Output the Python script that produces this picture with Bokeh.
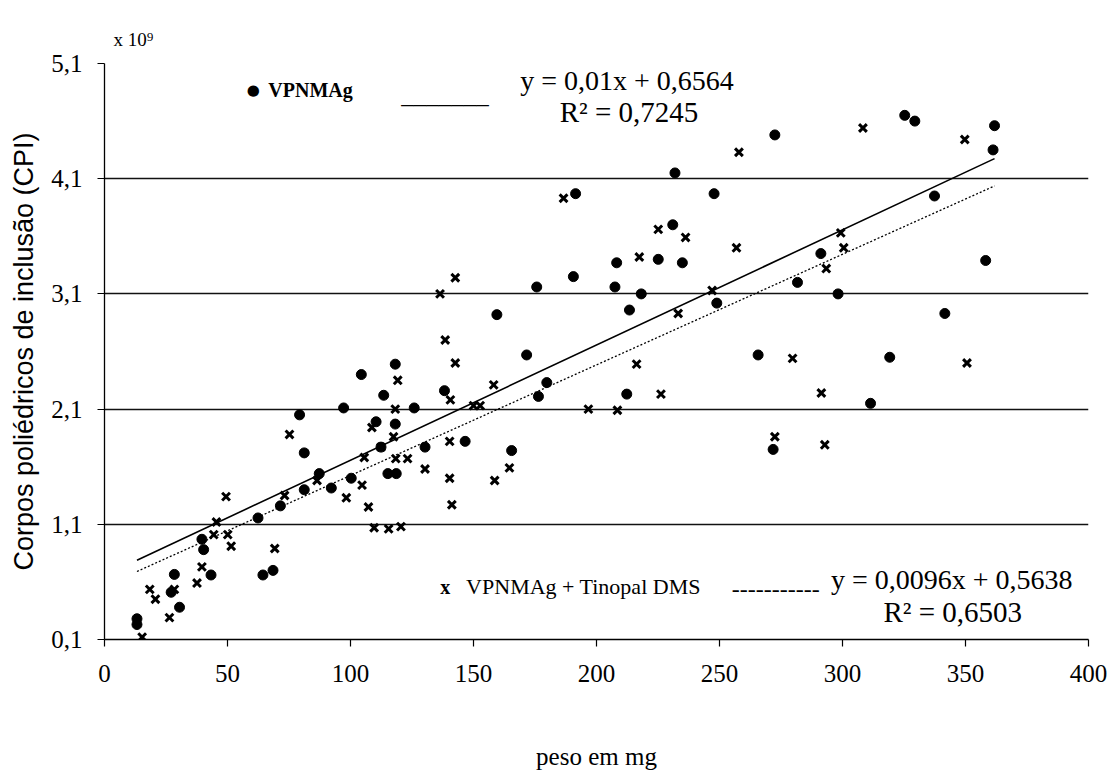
import numpy as np
from bokeh.plotting import figure
from bokeh.models import Range1d, FixedTicker, CustomJSTickFormatter, Label, Title
from bokeh.embed import file_html
from bokeh.resources import INLINE

# VPNMAg (circles)
vp_x = [13.2, 13.2, 27.1, 28.4, 30.5, 39.6, 40.3, 43.3, 62.4, 64.4, 68.5, 71.5,
        79.3, 81.2, 81.2, 87.3, 92.2, 97.2, 100.3, 104.4, 110.4, 112.4, 113.5,
        115.2, 118.6, 118.2, 118.2, 125.9, 130.3, 138.2, 146.6, 159.5, 165.5,
        171.6, 175.7, 176.4, 179.8, 190.6, 191.5, 207.5, 208.2, 212.3, 213.4,
        218.2, 225.1, 231.0, 231.9, 234.9, 247.8, 248.9, 265.7, 271.8, 272.5,
        325.3, 329.4, 361.8, 361.2, 337.4, 291.2, 281.7, 298.2, 358.2, 341.6,
        319.2, 311.4]
vp_y = [0.28, 0.23, 0.51, 0.665, 0.38, 0.97, 0.88, 0.66, 1.155, 0.66, 0.70, 1.26,
        2.05, 1.72, 1.40, 1.54, 1.415, 2.11, 1.50, 2.40, 1.99, 1.77, 2.22,
        1.54, 1.54, 2.49, 1.97, 2.11, 1.77, 2.26, 1.82, 2.92, 1.74,
        2.57, 3.16, 2.21, 2.33, 3.25, 3.97, 3.16, 3.37, 2.23, 2.96,
        3.10, 3.40, 3.70, 4.15, 3.37, 3.97, 3.02, 2.57, 1.75, 4.48,
        4.65, 4.60, 4.56, 4.35, 3.95, 3.45, 3.20, 3.10, 3.39, 2.93,
        2.55, 2.15]

# VPNMAg + Tinopal DMS (crosses)
tin_x = [15.3, 18.4, 20.7, 26.4, 28.4, 37.6, 39.6, 44.4, 45.5, 50.1, 51.5, 49.4,
         69.2, 73.2, 75.2, 86.4, 98.3, 105.6, 104.7, 107.3, 108.7, 109.6, 115.5,
         120.5, 112.4, 117.5, 118.4, 123.2, 118.2, 119.2, 130.3, 138.5, 140.6,
         140.3, 140.3, 141.2, 142.6, 150.0, 152.7, 158.2, 158.6, 164.6, 186.6,
         196.7, 208.5, 216.3, 217.4, 225.1, 226.2, 233.2, 236.2, 247.0, 256.9,
         257.9, 272.5, 308.3, 349.7, 299.3, 300.5, 293.4, 279.7, 350.6, 291.4,
         292.8, 136.4, 142.6]
tin_y = [0.12, 0.535, 0.45, 0.29, 0.535, 0.59, 0.73, 1.01, 1.12, 1.01, 0.91, 1.34,
         0.89, 1.35, 1.88, 1.48, 1.33, 1.68, 1.44, 1.25, 1.94, 1.07, 1.06,
         1.08, 1.77, 1.86, 1.67, 1.67, 2.10, 2.35, 1.58, 2.70, 2.18,
         1.82, 1.50, 1.27, 2.50, 2.13, 2.13, 2.31, 1.48, 1.59, 3.93,
         2.10, 2.09, 2.49, 3.42, 3.66, 2.23, 2.93, 3.59, 3.13, 3.50,
         4.33, 1.86, 4.54, 4.44, 3.63, 3.50, 3.32, 2.54, 2.50, 2.24,
         1.79, 3.10, 3.24]

x_ticks = [0, 50, 100, 150, 200, 250, 300, 350, 400]
y_ticks = [0.1, 1.1, 2.1, 3.1, 4.1, 5.1]

slope1, icpt1 = 0.01, 0.6564
slope2, icpt2 = 0.0096, 0.5638
eq1_text, r1_text = "y = 0,01x + 0,6564", "R\u00b2 = 0,7245"
eq2_text, r2_text = "y = 0,0096x + 0,5638", "R\u00b2 = 0,6503"
series1_name = "VPNMAg"
series2_name = "VPNMAg + Tinopal DMS"
x_label = "peso em mg"
y_label = "Corpos poliédricos de inclusão (CPI)"
scale_text = "x 10\u2079"

SERIF = "Liberation Serif"
SANS = "Liberation Sans"

p = figure(width=1108, height=772, output_backend="svg", toolbar_location=None,
           x_range=Range1d(0, 400), y_range=Range1d(0.1, 5.1),
           min_border_left=104, min_border_right=20, min_border_top=63,
           min_border_bottom=132)
p.outline_line_color = None
p.background_fill_color = "white"
p.border_fill_color = "white"

p.xgrid.grid_line_color = None
p.ygrid.grid_line_color = "#111111"
p.ygrid.grid_line_width = 1.3
p.ygrid.ticker = FixedTicker(ticks=y_ticks)

p.xaxis.ticker = FixedTicker(ticks=x_ticks)
p.yaxis.ticker = FixedTicker(ticks=y_ticks)
p.yaxis.formatter = CustomJSTickFormatter(code="return tick.toFixed(1).replace('.', ',');")
for ax in (p.xaxis[0], p.yaxis[0]):
    ax.axis_line_color = "black"
    ax.axis_line_width = 1.3
    ax.major_tick_line_color = "black"
    ax.major_tick_line_width = 1.2
    ax.major_tick_in = 0
    ax.major_tick_out = 7
    ax.minor_tick_line_color = None
    ax.major_label_text_font = SERIF
    ax.major_label_text_color = "black"
    ax.major_label_text_font_size = "25px"
p.xaxis.major_label_standoff = 18
p.yaxis.major_label_standoff = 15

p.xaxis.axis_label = x_label
p.xaxis.axis_label_text_font = SERIF
p.xaxis.axis_label_text_font_size = "25px"
p.xaxis.axis_label_text_font_style = "normal"
p.xaxis.axis_label_text_color = "black"
p.xaxis.axis_label_standoff = 58

p.yaxis.axis_label = y_label
p.yaxis.axis_label_text_font = SANS
p.yaxis.axis_label_text_font_size = "27px"
p.yaxis.axis_label_text_font_style = "normal"
p.yaxis.axis_label_text_color = "black"
p.yaxis.axis_label_standoff = 9

p.add_layout(Title(text=scale_text, align="left", offset=9, text_font=SERIF,
                   text_font_size="19px", text_font_style="normal",
                   text_color="black", standoff=27), "above")

# trend lines
all_x = np.array(vp_x + tin_x)
lx = np.array([all_x.min(), all_x.max()])
p.line(lx, slope1 * lx + icpt1, line_color="black", line_width=1.6)
p.line(lx, slope2 * lx + icpt2, line_color="black", line_width=1.3, line_dash="2 2")

p.scatter(vp_x, vp_y, marker="circle", size=10, fill_color="black", line_color="black")
p.scatter(tin_x, tin_y, marker="x", size=11, line_color="black", line_width=3)

def lab(x, y, text, size, align="left", baseline="middle", font=SERIF, style="normal"):
    p.add_layout(Label(x=x, y=y, text=text, text_font=font, text_font_size=size,
                       text_align=align, text_baseline=baseline, text_font_style=style,
                       text_color="black"))

lab(60.5, 4.866, "\u25cf", "15px", align="center", font="DejaVu Sans")
lab(66.6, 4.866, series1_name, "20px", style="bold")
lab(120.6, 4.831, "_______", "25px", baseline="alphabetic")
lab(212.4, 4.953, eq1_text, "28px", align="center")
lab(213.2, 4.675, r1_text, "29px", align="center")

lab(138.5, 0.559, "x", "20px", align="center", style="bold")
lab(147.0, 0.559, series2_name, "22px")
lab(255.0, 0.533, "-----------", "24px")
lab(344.4, 0.620, eq2_text, "28px", align="center")
lab(344.8, 0.343, r2_text, "29px", align="center")

open("out.html", "w").write(file_html(p, INLINE))
